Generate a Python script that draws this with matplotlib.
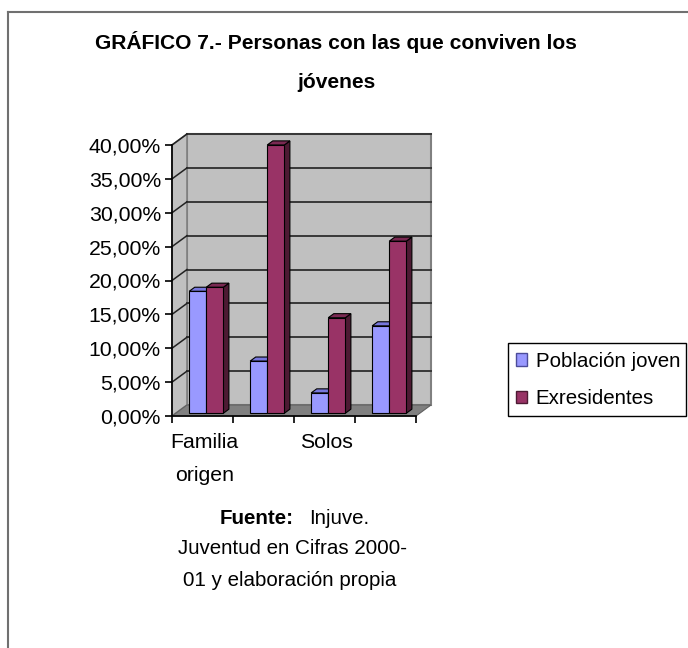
import numpy as np
import matplotlib.pyplot as plt
from matplotlib.patches import Polygon, Patch, Rectangle
from matplotlib.lines import Line2D

plt.rcParams['font.family'] = ['Liberation Sans', 'DejaVu Sans']

# data
categories = ['Familia\norigen', '', 'Solos', '']
series_names = ['Población joven', 'Exresidentes']
poblacion_joven = [18.0, 7.7, 3.0, 12.9]
exresidentes = [18.6, 39.6, 14.1, 25.4]
y_ticks = [0, 5, 10, 15, 20, 25, 30, 35, 40]

# colours: front, top, side
face_colors = [('#9999FF', '#7777DD', '#4C4C99'), ('#993366', '#7A2952', '#4D1A33')]

W, H = 688, 648
fig = plt.figure(figsize=(W / 100, H / 100), dpi=100)
fig.patch.set_facecolor('white')

# front plane of the 3D plot area (pixels)
left, right, bottom, top = 172, 416, 416, 145
ax = fig.add_axes([left / W, (H - bottom) / H, (right - left) / W, (bottom - top) / H])
ax.set_xlim(0, len(categories))
ax.set_ylim(0, 40)
ax.patch.set_visible(False)

# depth of the 3D box in data units (15 px right, 11 px up)
ddx = 15 / ((right - left) / len(categories))
ddy = 11 / ((bottom - top) / 40)
n = len(categories)

# back wall, side wall and floor
ax.add_patch(Polygon([(ddx, ddy), (n + ddx, ddy), (n + ddx, 40 + ddy), (ddx, 40 + ddy)],
                     closed=True, facecolor='#C0C0C0', edgecolor='#808080', lw=1.5, clip_on=False, zorder=0))
ax.add_patch(Polygon([(0, 0), (ddx, ddy), (ddx, 40 + ddy), (0, 40)],
                     closed=True, facecolor='#C0C0C0', edgecolor='#808080', lw=1.2, clip_on=False, zorder=0))
ax.add_patch(Polygon([(0, 0), (n, 0), (n + ddx, ddy), (ddx, ddy)],
                     closed=True, facecolor='#808080', edgecolor='#606060', lw=0.8, clip_on=False, zorder=0.5))
for t in y_ticks[1:]:
    ax.plot([ddx, n + ddx], [t + ddy, t + ddy], color='#383838', lw=1.4, clip_on=False, zorder=0.3)
    ax.plot([0, ddx], [t, t + ddy], color='#222222', lw=1.1, clip_on=False, zorder=0.3)

# bars
w = 0.28
f1, f2 = 0.25, 0.62
for i in range(n):
    for s, vals in enumerate([poblacion_joven, exresidentes]):
        v = vals[i]
        xl = i + 0.5 - w + s * w
        front_c, top_c, side_c = face_colors[s]
        x0, x1 = xl + f1 * ddx, xl + w + f1 * ddx
        bx0, bx1 = xl + f2 * ddx, xl + w + f2 * ddx
        y0, yb = f1 * ddy, f2 * ddy
        ax.add_patch(Polygon([(x1, y0), (bx1, yb), (bx1, v + yb), (x1, v + y0)], closed=True,
                             facecolor=side_c, edgecolor='black', lw=0.8, zorder=2 + i, clip_on=False))
        ax.add_patch(Polygon([(x0, v + y0), (x1, v + y0), (bx1, v + yb), (bx0, v + yb)], closed=True,
                             facecolor=top_c, edgecolor='black', lw=0.8, zorder=2 + i, clip_on=False))
        ax.add_patch(Polygon([(x0, y0), (x1, y0), (x1, v + y0), (x0, v + y0)], closed=True,
                             facecolor=front_c, edgecolor='black', lw=0.8, zorder=2 + i, clip_on=False))

# axes
for sp in ['top', 'right']:
    ax.spines[sp].set_visible(False)
for sp in ['left', 'bottom']:
    ax.spines[sp].set_color('black')
    ax.spines[sp].set_linewidth(1.2)
    ax.spines[sp].set_zorder(10)
ax.set_yticks(y_ticks)
ax.set_yticklabels([('%.2f%%' % t).replace('.', ',') for t in y_ticks], fontsize=15.3)
ax.set_xticks(np.arange(n + 1))
ax.set_xticklabels([])
ax.set_xticks(np.arange(n) + 0.53, minor=True)
ax.set_xticklabels(categories, minor=True, fontsize=15.3, linespacing=1.95, va='top')
ax.tick_params(axis='both', which='major', direction='out', length=5, width=1.2, color='black', pad=3)
ax.tick_params(axis='x', which='minor', length=0, pad=12)

# title
fig.text(336 / W, 1 - 42 / H, 'GRÁFICO 7.- Personas con las que conviven los', ha='center', va='center',
         fontsize=15.1, fontweight='bold')
fig.text(336 / W, 1 - 83 / H, 'jóvenes', ha='center', va='center', fontsize=15.1, fontweight='bold')

# legend
handles = [Patch(facecolor=face_colors[k][0], edgecolor=face_colors[k][2], label=series_names[k]) for k in range(2)]
leg = fig.legend(handles=handles, loc='center left', bbox_to_anchor=(516 / W, 1 - 380 / H), fontsize=14.8,
                 frameon=False, handlelength=0.55, handleheight=0.55,
                 handletextpad=0.4, labelspacing=0.9, borderpad=0.0, borderaxespad=0)
fig.add_artist(Rectangle((508 / W, 1 - 416 / H), 178 / W, 73 / H, transform=fig.transFigure,
                         facecolor='none', edgecolor='black', lw=1.0))

# source note
fig.text(294 / W, 1 - 519 / H, 'Fuente:', ha='right', va='center', fontsize=14.8, fontweight='bold')
fig.text(309 / W, 1 - 519 / H, 'Injuve.', ha='left', va='center', fontsize=14.8)
fig.text(292 / W, 1 - 549 / H, 'Juventud en Cifras 2000-', ha='center', va='center', fontsize=14.8)
fig.text(290 / W, 1 - 580 / H, '01 y elaboración propia', ha='center', va='center', fontsize=14.8)

# outer frame (left and top edges visible)
fig.add_artist(Line2D([8 / W, 8 / W], [0, 1 - 12 / H], color='#707070', lw=1.5))
fig.add_artist(Line2D([8 / W, 1], [1 - 12 / H, 1 - 12 / H], color='#707070', lw=1.5))

fig.savefig('out.png', dpi=100)
